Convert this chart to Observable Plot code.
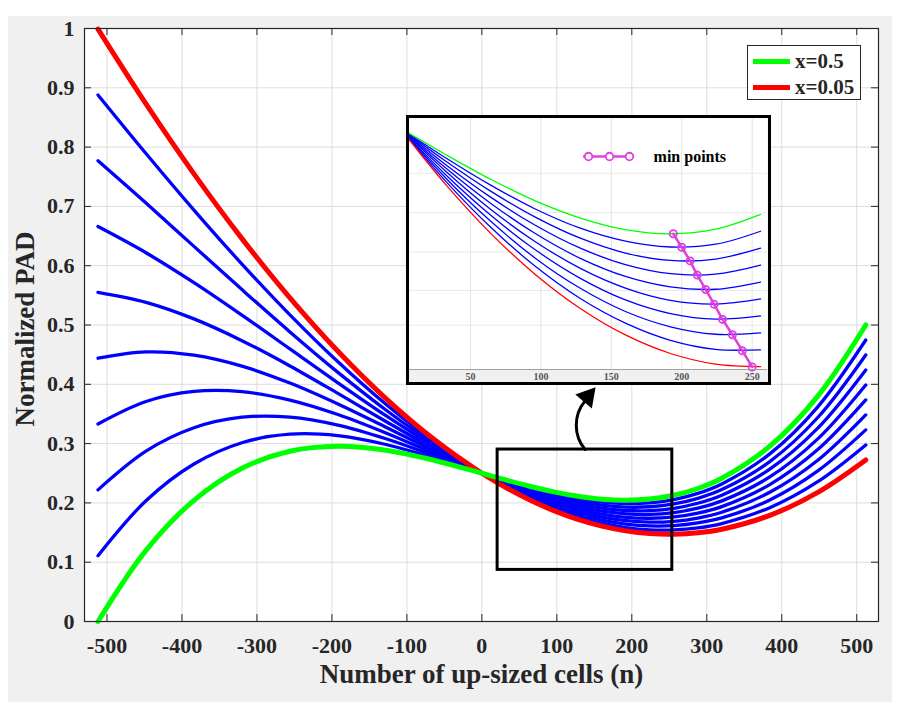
<!DOCTYPE html>
<html>
<head>
<meta charset="utf-8">
<script src="https://cdn.jsdelivr.net/npm/d3@7"></script>
<script src="https://cdn.jsdelivr.net/npm/@observablehq/plot@0.6"></script>
<style>
  html, body { margin: 0; padding: 0; background: #fff; }
  #fig { position: relative; width: 900px; height: 705px; overflow: hidden;
         font-family: "Liberation Serif", "Times New Roman", serif; }
  #panel { position: absolute; left: 8px; top: 16px; width: 884px; height: 686px; background: #f0f0f0; }
  #main { position: absolute; left: 0; top: 0; }
  #inset { position: absolute; left: 406px; top: 115px; width: 359px; height: 264px;
           border: 3px solid #000; background: #f0f0f0; }
  #inset svg { display: block; }
  #legend { position: absolute; left: 747px; top: 45px; width: 112px; height: 53px;
            background: #fff; border: 1px solid #262626; }
  #legend .row { position: absolute; left: 5px; height: 24px; display: flex; align-items: center; }
  #legend .sw { width: 37px; height: 5px; margin-right: 5px; }
  #legend .lb { font-size: 21px; font-weight: bold; color: #262626; line-height: 24px; }
</style>
</head>
<body>
<div id="fig">
  <div id="panel"></div>
  <div id="main"></div>
  <div id="inset"></div>
  <div id="legend"></div>
</div>
<script>
// Number of up-sized cells at which each curve is sampled
const n = [-512, -448, -384, -320, -256, -192, -128, -64, 0, 32, 64, 96, 128, 160, 192, 224, 256, 288, 320, 384, 448, 512];

// Ratio x of each curve (0.05 ... 0.5)
const ratios = [0.05, 0.10, 0.15, 0.20, 0.25, 0.30, 0.35, 0.40, 0.45, 0.50];

// Normalized PAD for each ratio, one value per entry of n
const pad005 = [0.9990, 0.8729, 0.7549, 0.6457, 0.5458, 0.4557, 0.3760, 0.3073, 0.25, 0.2259, 0.2048, 0.1869, 0.1722, 0.1608, 0.1528, 0.1482, 0.1471, 0.1495, 0.1556, 0.1790, 0.2178, 0.2725];
const pad010 = [0.8880, 0.7892, 0.6938, 0.6027, 0.5171, 0.4379, 0.3663, 0.3033, 0.25, 0.2273, 0.2074, 0.1904, 0.1765, 0.1659, 0.1585, 0.1546, 0.1544, 0.1578, 0.1652, 0.1920, 0.2358, 0.2978];
const pad015 = [0.7770, 0.7056, 0.6326, 0.5597, 0.4883, 0.4201, 0.3567, 0.2994, 0.25, 0.2287, 0.2100, 0.1939, 0.1809, 0.1709, 0.1643, 0.1611, 0.1617, 0.1662, 0.1747, 0.2049, 0.2539, 0.3231];
const pad020 = [0.6660, 0.6219, 0.5714, 0.5166, 0.4596, 0.4024, 0.3470, 0.2955, 0.25, 0.2301, 0.2126, 0.1975, 0.1852, 0.1759, 0.1700, 0.1676, 0.1690, 0.1745, 0.1843, 0.2179, 0.2719, 0.3484];
const pad025 = [0.5550, 0.5382, 0.5103, 0.4736, 0.4309, 0.3846, 0.3373, 0.2916, 0.25, 0.2316, 0.2151, 0.2010, 0.1895, 0.1810, 0.1757, 0.1741, 0.1763, 0.1828, 0.1938, 0.2309, 0.2899, 0.3736];
const pad030 = [0.4440, 0.4546, 0.4491, 0.4306, 0.4021, 0.3668, 0.3276, 0.2877, 0.25, 0.2330, 0.2177, 0.2045, 0.1938, 0.1860, 0.1815, 0.1805, 0.1836, 0.1911, 0.2034, 0.2438, 0.3080, 0.3989];
const pad035 = [0.3330, 0.3709, 0.3879, 0.3876, 0.3734, 0.3490, 0.3179, 0.2837, 0.25, 0.2344, 0.2203, 0.2081, 0.1982, 0.1911, 0.1872, 0.1870, 0.1909, 0.1994, 0.2129, 0.2568, 0.3260, 0.4242];
const pad040 = [0.2220, 0.2873, 0.3267, 0.3445, 0.3446, 0.3312, 0.3082, 0.2798, 0.25, 0.2359, 0.2229, 0.2116, 0.2025, 0.1961, 0.1929, 0.1935, 0.1982, 0.2077, 0.2225, 0.2697, 0.3440, 0.4495];
const pad045 = [0.1110, 0.2036, 0.2656, 0.3015, 0.3159, 0.3134, 0.2985, 0.2759, 0.25, 0.2373, 0.2255, 0.2151, 0.2068, 0.2012, 0.1987, 0.1999, 0.2055, 0.2160, 0.2320, 0.2827, 0.3620, 0.4747];
const pad050 = [0.0000, 0.1199, 0.2044, 0.2584, 0.2872, 0.2956, 0.2889, 0.2720, 0.25, 0.2387, 0.2280, 0.2186, 0.2112, 0.2062, 0.2044, 0.2064, 0.2128, 0.2243, 0.2416, 0.2956, 0.3801, 0.5000];

// Minimum of each curve, from x=0.5 down to x=0.05
const minN = [194, 200, 206, 211, 217, 223, 229, 236, 243, 250];
const minPad = [0.2044, 0.1986, 0.1927, 0.1866, 0.1804, 0.1740, 0.1675, 0.1609, 0.1540, 0.1470];

// Axes
const xTicks = [-500, -400, -300, -200, -100, 0, 100, 200, 300, 400, 500];
const yTicks = [0, 0.1, 0.2, 0.3, 0.4, 0.5, 0.6, 0.7, 0.8, 0.9, 1];
const insetTicks = [50, 100, 150, 200, 250];
const insetGrid = [0.165, 0.18, 0.1965, 0.2135, 0.2305];
const xTitle = "Number of up-sized cells (n)";
const yTitle = "Normalized PAD";
const legendLabels = ["x=0.5", "x=0.05"];
const minLabel = "min points";

// Zoomed window marked on the main chart, and the window shown in the inset
const zoomN = [21, 254];
const zoomPad = [0.087, 0.29];
const insetN = [6.7, 260.9];
const insetPad = [0.1459, 0.2541];

// Callout arrow from the zoom window to the inset (start, bend end, head)
const arrowN = [137.7, 137.7, 141];
const arrowPad = [0.29, 0.372, 0.379];

// "min points" legend sample inside the inset
const minKeyN = [130.3, 133.8, 148.7, 162.9, 165.1];
const minKeyPad = 0.2377;

const series = [pad005, pad010, pad015, pad020, pad025, pad030, pad035, pad040, pad045, pad050];
const rows = ratios.flatMap((r, i) => n.map((v, j) => ({n: v, pad: series[i][j], ratio: r})));
const blue = rows.filter(d => d.ratio > 0.05 && d.ratio < 0.5);
const red = rows.filter(d => d.ratio === 0.05);
const green = rows.filter(d => d.ratio === 0.5);
const mins = minN.map((v, i) => ({n: v, pad: minPad[i]}));

const INK = "#262626";
const FONT = "Liberation Serif, Times New Roman, serif";
const W = 900, H = 705, ML = 84, MR = 22, MT = 28, MB = 84;
const fw = W - ML - MR, fh = H - MT - MB;

const main = Plot.plot({
  width: W, height: H,
  marginLeft: ML, marginRight: MR, marginTop: MT, marginBottom: MB,
  x: {domain: [-530, 529]},
  y: {domain: [0, 1]},
  style: {background: "transparent", fontFamily: FONT, fontWeight: "bold", fontSize: "22px", color: INK, overflow: "visible"},
  marks: [
    Plot.frame({fill: "white", stroke: "none"}),
    Plot.gridX(xTicks, {stroke: "#dcdcdc", strokeOpacity: 1}),
    Plot.gridY(yTicks, {stroke: "#dcdcdc", strokeOpacity: 1}),
    // inward ticks on all four sides
    Plot.ruleX(xTicks, {x: d => d, insetTop: fh - 7, stroke: INK}),
    Plot.ruleX(xTicks, {x: d => d, insetBottom: fh - 7, stroke: INK}),
    Plot.ruleY(yTicks, {y: d => d, insetRight: fw - 7, stroke: INK}),
    Plot.ruleY(yTicks, {y: d => d, insetLeft: fw - 7, stroke: INK}),
    Plot.axisX(xTicks, {tickSize: 0, tickPadding: 16, tickFormat: d => String(d), label: null, fontSize: 22}),
    Plot.axisY(yTicks, {tickSize: 0, tickPadding: 10, tickFormat: d => String(d), label: null, fontSize: 22}),
    Plot.line(blue, {x: "n", y: "pad", z: "ratio", stroke: "#0000ff", strokeWidth: 3.3, curve: "catmull-rom"}),
    Plot.line(red, {x: "n", y: "pad", stroke: "#ff0000", strokeWidth: 5, curve: "catmull-rom"}),
    Plot.line(green, {x: "n", y: "pad", stroke: "#00ff00", strokeWidth: 5, curve: "catmull-rom"}),
    Plot.rect([0], {x1: () => zoomN[0], x2: () => zoomN[1], y1: () => zoomPad[0], y2: () => zoomPad[1],
      fill: "none", stroke: "#000", strokeWidth: 3}),
    Plot.arrow([0], {x1: () => arrowN[0], y1: () => arrowPad[0], x2: () => arrowN[1], y2: () => arrowPad[1],
      bend: 40, headLength: 0, stroke: "#000", strokeWidth: 3}),
    Plot.dot([0], {x: () => arrowN[2], y: () => arrowPad[2], symbol: "triangle", r: 8, rotate: 40, fill: "#000", stroke: "none"}),
    Plot.frame({stroke: INK, strokeWidth: 1.2}),
    Plot.text([xTitle], {text: d => d, frameAnchor: "bottom", lineAnchor: "middle", textAnchor: "middle", dy: 53, fontSize: 27, fontWeight: "bold", fill: INK}),
    Plot.text([yTitle], {text: d => d, frameAnchor: "left", lineAnchor: "middle", textAnchor: "middle", dx: -59, dy: 4, rotate: -90, fontSize: 27, fontWeight: "bold", fill: INK})
  ]
});
document.getElementById("main").appendChild(main);

// Inset: close-up of the curve minima
const insetBlue = blue.filter(d => d.n >= 0 && d.n <= 256);
const insetRed = red.filter(d => d.n >= 0 && d.n <= 256);
const insetGreen = green.filter(d => d.n >= 0 && d.n <= 256);
const MAG = "#e040e0";
const inset = Plot.plot({
  width: 359, height: 264,
  marginLeft: 0, marginRight: 1, marginTop: 0, marginBottom: 13,
  x: {domain: insetN},
  y: {domain: insetPad, axis: null},
  style: {background: "#f0f0f0", fontFamily: FONT, fontWeight: "bold", fontSize: "10px", color: "#555", overflow: "hidden"},
  marks: [
    Plot.frame({fill: "white", stroke: "none"}),
    Plot.gridX(insetTicks, {stroke: "#e4e4e4", strokeOpacity: 1}),
    Plot.gridY(insetGrid, {stroke: "#e8e8e8", strokeOpacity: 1}),
    Plot.axisX(insetTicks, {tickSize: 0, tickPadding: 3, label: null, fontSize: 10}),
    Plot.line(insetBlue, {x: "n", y: "pad", z: "ratio", stroke: "#0000ff", strokeWidth: 1.3, curve: "catmull-rom", clip: true}),
    Plot.line(insetRed, {x: "n", y: "pad", stroke: "#ff0000", strokeWidth: 1.3, curve: "catmull-rom", clip: true}),
    Plot.line(insetGreen, {x: "n", y: "pad", stroke: "#00ff00", strokeWidth: 1.3, curve: "catmull-rom", clip: true}),
    Plot.line(mins, {x: "n", y: "pad", stroke: MAG, strokeWidth: 2.5}),
    Plot.dot(mins, {x: "n", y: "pad", r: 3.6, stroke: MAG, strokeWidth: 1.8, fill: "none"}),
    Plot.ruleY([insetPad[0]], {stroke: "#a0a0a0"}),
    // legend sample
    Plot.ruleY([minKeyPad], {x1: () => minKeyN[0], x2: () => minKeyN[4], stroke: MAG, strokeWidth: 2.5}),
    Plot.dot(minKeyN.slice(1, 4), {x: d => d, y: () => minKeyPad, r: 3.8, stroke: MAG, strokeWidth: 1.8, fill: "white"}),
    Plot.text([minLabel], {text: d => d, x: () => 180, y: () => minKeyPad, textAnchor: "start", fontSize: 16, fontWeight: "bold", fill: "#000"})
  ]
});
document.getElementById("inset").appendChild(inset);

// Legend for the two extreme ratios
const legend = document.getElementById("legend");
const legendColors = ["#00ff00", "#ff0000"];
legendLabels.forEach((label, i) => {
  const row = document.createElement("div");
  row.className = "row";
  row.style.top = (3 + i * 26) + "px";
  const sw = document.createElement("div");
  sw.className = "sw";
  sw.style.background = legendColors[i];
  const lb = document.createElement("span");
  lb.className = "lb";
  lb.textContent = label;
  row.appendChild(sw);
  row.appendChild(lb);
  legend.appendChild(row);
});
</script>
</body>
</html>
